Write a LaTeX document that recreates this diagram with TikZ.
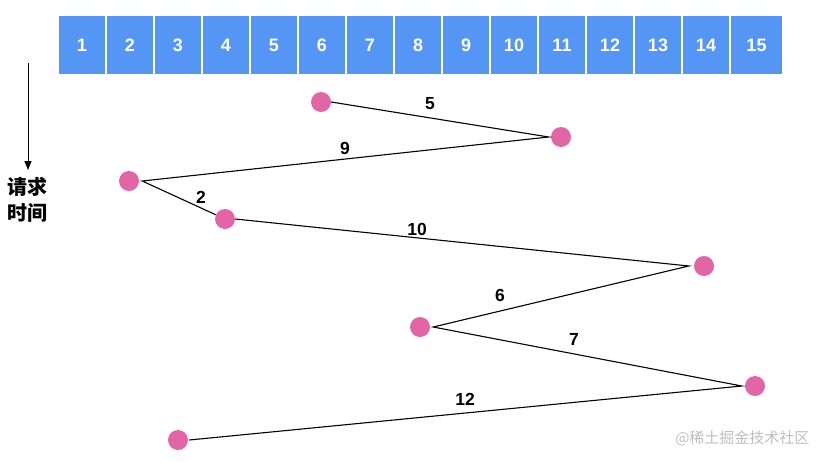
\documentclass[tikz,border=0pt]{standalone}
\usepackage{fontspec}
\setmainfont{Liberation Sans}
\newfontfamily\cjkfont{Noto Sans CJK SC}
\usetikzlibrary{arrows.meta}
\definecolor{cellblue}{RGB}{85,150,245}
\definecolor{dotpink}{RGB}{226,102,166}
\definecolor{markgray}{RGB}{190,190,190}

\begin{document}
\begin{tikzpicture}[x=1pt, y=-1pt,
    cell/.style={draw=white, line width=1.5pt, fill=cellblue, text=white,
      font=\fontsize{18}{21}\selectfont\bfseries, minimum height=60pt, inner sep=0pt},
    req/.style={circle, fill=dotpink, minimum size=20pt, inner sep=0pt},
    seek/.style={black, line width=1.1pt},
    dist/.style={font=\fontsize{17.5}{20}\selectfont\bfseries}]
      \useasboundingbox (0,0) rectangle (827,461);

      % tracks
      \foreach \i in {1,...,14}
        \node[cell, minimum width=48pt] (c\i) at ({34+48*\i},45) {\i};
      \node[cell, minimum width=53pt] (c15) at (756.5,45) {15};

      % time axis
      \coordinate (t0) at (28,63);
      \coordinate (t1) at (28,170);
      \draw[-{Triangle[length=9pt,width=7pt]}, line width=1pt] (t0) -- (t1);
      \node[font=\cjkfont\fontsize{20}{24}\selectfont\bfseries] (q1) at (28,187) {请求};
      \node[font=\cjkfont\fontsize{20}{24}\selectfont\bfseries] (q2) at (28,213) {时间};

      % requests
      \node[req] (r1) at (321,102) {};
      \node[req] (r2) at (561,137) {};
      \node[req] (r3) at (129,181) {};
      \node[req] (r4) at (225,219) {};
      \node[req] (r5) at (704,266) {};
      \node[req] (r6) at (420,327) {};
      \node[req] (r7) at (755,386) {};
      \node[req] (r8) at (178,440) {};

      \draw[seek] (r1.east) -- ([xshift=-2pt]r2.west) -- ([xshift=3pt]r3.east) -- (r4);
      \draw[seek] (r4.east) -- ([xshift=-5pt]r5.west) -- ([xshift=3pt]r6.east)
        -- ([xshift=-3pt]r7.west) -- ([xshift=1pt]r8.east);

      \node[dist] (s1) at (430,104) {5};
      \node[dist] (s2) at (345,148) {9};
      \node[dist] (s3) at (201,197) {2};
      \node[dist] (s4) at (417,229) {10};
      \node[dist] (s5) at (500,295) {6};
      \node[dist] (s6) at (574,339) {7};
      \node[dist] (s7) at (465,399) {12};

      \node[font=\cjkfont\fontsize{15}{18}\selectfont, text=markgray, anchor=east] (mark) at (813,438) {@稀土掘金技术社区};
    \end{tikzpicture}
\end{document}
